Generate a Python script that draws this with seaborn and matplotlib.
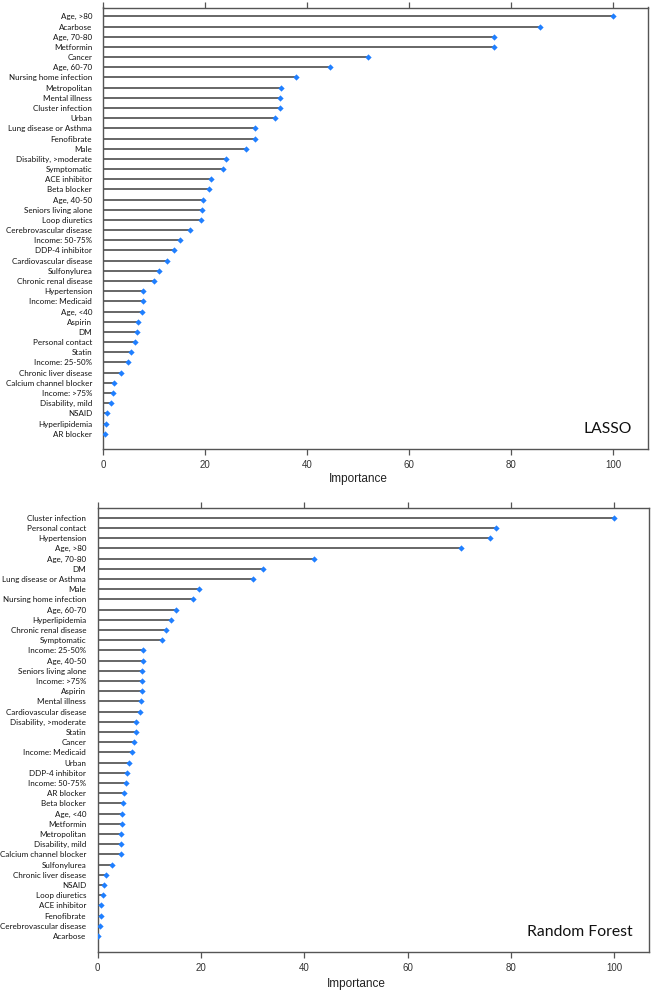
import matplotlib
matplotlib.use("Agg")
import matplotlib.pyplot as plt
import matplotlib.transforms as mtransforms
import seaborn as sns
import pandas as pd
import numpy as np

lasso_features = [
    "Age, >80", "Acarbose", "Age, 70-80", "Metformin", "Cancer", "Age, 60-70",
    "Nursing home infection", "Metropolitan", "Mental illness", "Cluster infection",
    "Urban", "Lung disease or Asthma", "Fenofibrate", "Male", "Disability, >moderate",
    "Symptomatic", "ACE inhibitor", "Beta blocker", "Age, 40-50", "Seniors living alone",
    "Loop diuretics", "Cerebrovascular disease", "Income: 50-75%", "DDP-4 inhibitor",
    "Cardiovascular disease", "Sulfonylurea", "Chronic renal disease", "Hypertension",
    "Income: Medicaid", "Age, <40", "Aspirin", "DM", "Personal contact", "Statin",
    "Income: 25-50%", "Chronic liver disease", "Calcium channel blocker", "Income: >75%",
    "Disability, mild", "NSAID", "Hyperlipidemia", "AR blocker",
]
lasso_importance = [
    100.0, 85.6, 76.7, 76.7, 51.9, 44.5, 37.7, 34.8, 34.7, 34.6,
    33.7, 29.8, 29.7, 27.9, 24.1, 23.5, 21.2, 20.7, 19.5, 19.4,
    19.1, 17.0, 15.0, 13.8, 12.5, 10.9, 10.0, 7.7, 7.7, 7.6,
    6.9, 6.7, 6.3, 5.4, 4.9, 3.4, 2.0, 1.9, 1.5, 0.7, 0.5, 0.3,
]

rf_features = [
    "Cluster infection", "Personal contact", "Hypertension", "Age, >80", "Age, 70-80",
    "DM", "Lung disease or Asthma", "Male", "Nursing home infection", "Age, 60-70",
    "Hyperlipidemia", "Chronic renal disease", "Symptomatic", "Income: 25-50%",
    "Age, 40-50", "Seniors living alone", "Income: >75%", "Aspirin", "Mental illness",
    "Cardiovascular disease", "Disability, >moderate", "Statin", "Cancer",
    "Income: Medicaid", "Urban", "DDP-4 inhibitor", "Income: 50-75%", "AR blocker",
    "Beta blocker", "Age, <40", "Metformin", "Metropolitan", "Disability, mild",
    "Calcium channel blocker", "Sulfonylurea", "Chronic liver disease", "NSAID",
    "Loop diuretics", "ACE inhibitor", "Fenofibrate", "Cerebrovascular disease", "Acarbose",
]
rf_importance = [
    100.0, 77.2, 76.0, 70.4, 41.8, 32.1, 30.1, 19.7, 18.4, 15.2,
    14.2, 13.3, 12.5, 8.8, 8.7, 8.6, 8.5, 8.5, 8.3, 8.1,
    7.4, 7.4, 7.0, 6.6, 6.1, 5.7, 5.5, 5.0, 4.9, 4.7,
    4.7, 4.6, 4.6, 4.5, 2.7, 1.7, 1.2, 1.1, 0.7, 0.6, 0.4, 0.1,
]

x_ticks = [0, 20, 40, 60, 80, 100]

sns.set_theme(style="white")
plt.rcParams["font.family"] = ["Lato", "DejaVu Sans"]

fig = plt.figure(figsize=(6.52, 9.92), dpi=100)

panels = [
    (lasso_features, lasso_importance, "LASSO",
     [103.3 / 652, 1 - 449 / 992, (648 - 103.3) / 652, (449 - 7.5) / 992], 0.87, 1.5, 8.0),
    (rf_features, rf_importance, "Random Forest",
     [97.7 / 652, 1 - 952 / 992, (649.3 - 97.7) / 652, (952 - 507.5) / 992], 1.0, 1.56, 8.3),
]

spine_col = "#555555"
for feats, vals, title, rect, topgap, botgap, ypad in panels:
    ax = fig.add_axes(rect)
    df = pd.DataFrame({"feature": feats, "importance": vals})
    n = len(df)
    ax.hlines(y=np.arange(n), xmin=0, xmax=df["importance"], color="#4d4d4d",
              linewidth=1.2, zorder=1)
    sns.stripplot(data=df, x="importance", y="feature", orient="h", jitter=False,
                  marker="D", size=3.2, color="#1f7fff", linewidth=0, ax=ax, zorder=3)
    ax.set_xlim(0, 106.8)
    ax.set_ylim(n - 1 + botgap, -topgap)
    ax.set_xticks(x_ticks)
    ax.set_xticklabels([str(t) for t in x_ticks], fontfamily="Liberation Sans",
                       fontsize=7, color="#333333")
    ax.tick_params(axis="x", which="both", bottom=True, top=True, length=4,
                   width=0.9, color=spine_col, direction="out", pad=4)
    ax.tick_params(axis="y", left=False, length=0, pad=ypad, labelsize=5.8,
                   labelcolor="#111111")
    for lab in ax.get_yticklabels():
        lab.set_fontfamily(["Lato", "DejaVu Sans"])
    for s in ax.spines.values():
        s.set_visible(True)
        s.set_color(spine_col)
        s.set_linewidth(1.0)
    ax.set_xlabel("")
    ax.set_ylabel("")
    trans = mtransforms.blended_transform_factory(ax.transData, ax.transAxes)
    ax.text(50, -0.068 if title == "LASSO" else -0.072, "Importance", transform=trans,
            ha="center", va="center", fontsize=8.5, fontfamily="Liberation Sans",
            color="#222222")
    ax.text(0.97, 0.045, title, transform=ax.transAxes, ha="right", va="center",
            fontsize=11.3, fontfamily=["Lato", "DejaVu Sans"], color="#111111")
    ax.grid(False)

fig.savefig("out.png", dpi=100, facecolor="white")
